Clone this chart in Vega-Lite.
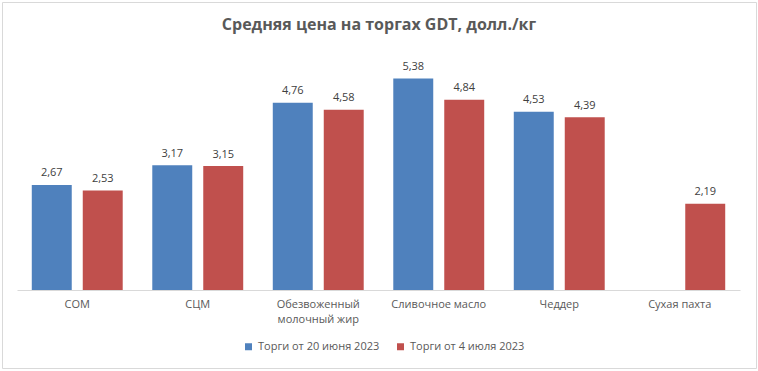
{
  "$schema": "https://vega.github.io/schema/vega-lite/v6.json",
  "width": 754,
  "height": 366,
  "autosize": {"type": "none"},
  "padding": {"left": 2, "top": 2, "right": 2, "bottom": 3},
  "background": "white",
  "config": {
    "view": {"stroke": "#d9d9d9", "strokeWidth": 1},
    "font": "Open Sans",
    "locale": {"number": {"decimal": ",", "thousands": " ", "grouping": [3], "currency": ["", ""]}}
  },
  "title": {
    "text": "Средняя цена на торгах GDT, долл./кг",
    "fontSize": 16,
    "fontWeight": "bold",
    "color": "#595959",
    "anchor": "middle",
    "offset": -31
  },
  "data": {
    "values": [
      {"product": "СОМ", "series": "Торги от 20 июня 2023", "value": 2.67},
      {"product": "СОМ", "series": "Торги от 4 июля 2023", "value": 2.53},
      {"product": "СЦМ", "series": "Торги от 20 июня 2023", "value": 3.17},
      {"product": "СЦМ", "series": "Торги от 4 июля 2023", "value": 3.15},
      {"product": "Обезвоженный молочный жир", "series": "Торги от 20 июня 2023", "value": 4.76},
      {"product": "Обезвоженный молочный жир", "series": "Торги от 4 июля 2023", "value": 4.58},
      {"product": "Сливочное масло", "series": "Торги от 20 июня 2023", "value": 5.38},
      {"product": "Сливочное масло", "series": "Торги от 4 июля 2023", "value": 4.84},
      {"product": "Чеддер", "series": "Торги от 20 июня 2023", "value": 4.53},
      {"product": "Чеддер", "series": "Торги от 4 июля 2023", "value": 4.39},
      {"product": "Сухая пахта", "series": "Торги от 4 июля 2023", "value": 2.19}
    ]
  },
  "encoding": {
    "x": {
      "field": "product",
      "type": "nominal",
      "sort": ["СОМ", "СЦМ", "Обезвоженный молочный жир", "Сливочное масло", "Чеддер", "Сухая пахта"],
      "scale": {"range": [15, 738], "paddingInner": 0, "paddingOuter": 0},
      "axis": {
        "orient": "bottom",
        "offset": -78,
        "title": null,
        "ticks": false,
        "domainColor": "#d9d9d9",
        "labelFontSize": 11,
        "labelColor": "#595959",
        "labelPadding": 8,
        "labelAngle": 0,
        "labelLineHeight": 15,
        "labelLimit": 200,
        "labelExpr": "datum.label == 'Обезвоженный молочный жир' ? ['Обезвоженный', 'молочный жир'] : datum.label"
      }
    },
    "xOffset": {
      "field": "series",
      "type": "nominal",
      "sort": ["Торги от 20 июня 2023", "Торги от 4 июля 2023"],
      "scale": {"paddingInner": 0.216, "paddingOuter": 0.29}
    },
    "y": {
      "field": "value",
      "type": "quantitative",
      "scale": {"domain": [0, 6], "range": [288, 52]},
      "axis": null
    }
  },
  "layer": [
    {
      "mark": {"type": "bar"},
      "encoding": {
        "color": {
          "field": "series",
          "type": "nominal",
          "sort": ["Торги от 20 июня 2023", "Торги от 4 июля 2023"],
          "scale": {"range": ["#4F81BD", "#C0504D"]},
          "legend": {
            "orient": "none",
            "legendX": 241,
            "legendY": 339,
            "direction": "horizontal",
            "title": null,
            "symbolType": "square",
            "symbolSize": 49,
            "symbolStrokeWidth": 0,
            "labelFontSize": 11,
            "labelColor": "#595959",
            "columnPadding": 15,
            "labelOffset": 4
          }
        }
      }
    },
    {
      "mark": {"type": "text", "dy": -8.5, "baseline": "alphabetic", "fontSize": 11, "color": "#404040"},
      "encoding": {
        "text": {"field": "value", "type": "quantitative", "format": ".2f"}
      }
    }
  ]
}
